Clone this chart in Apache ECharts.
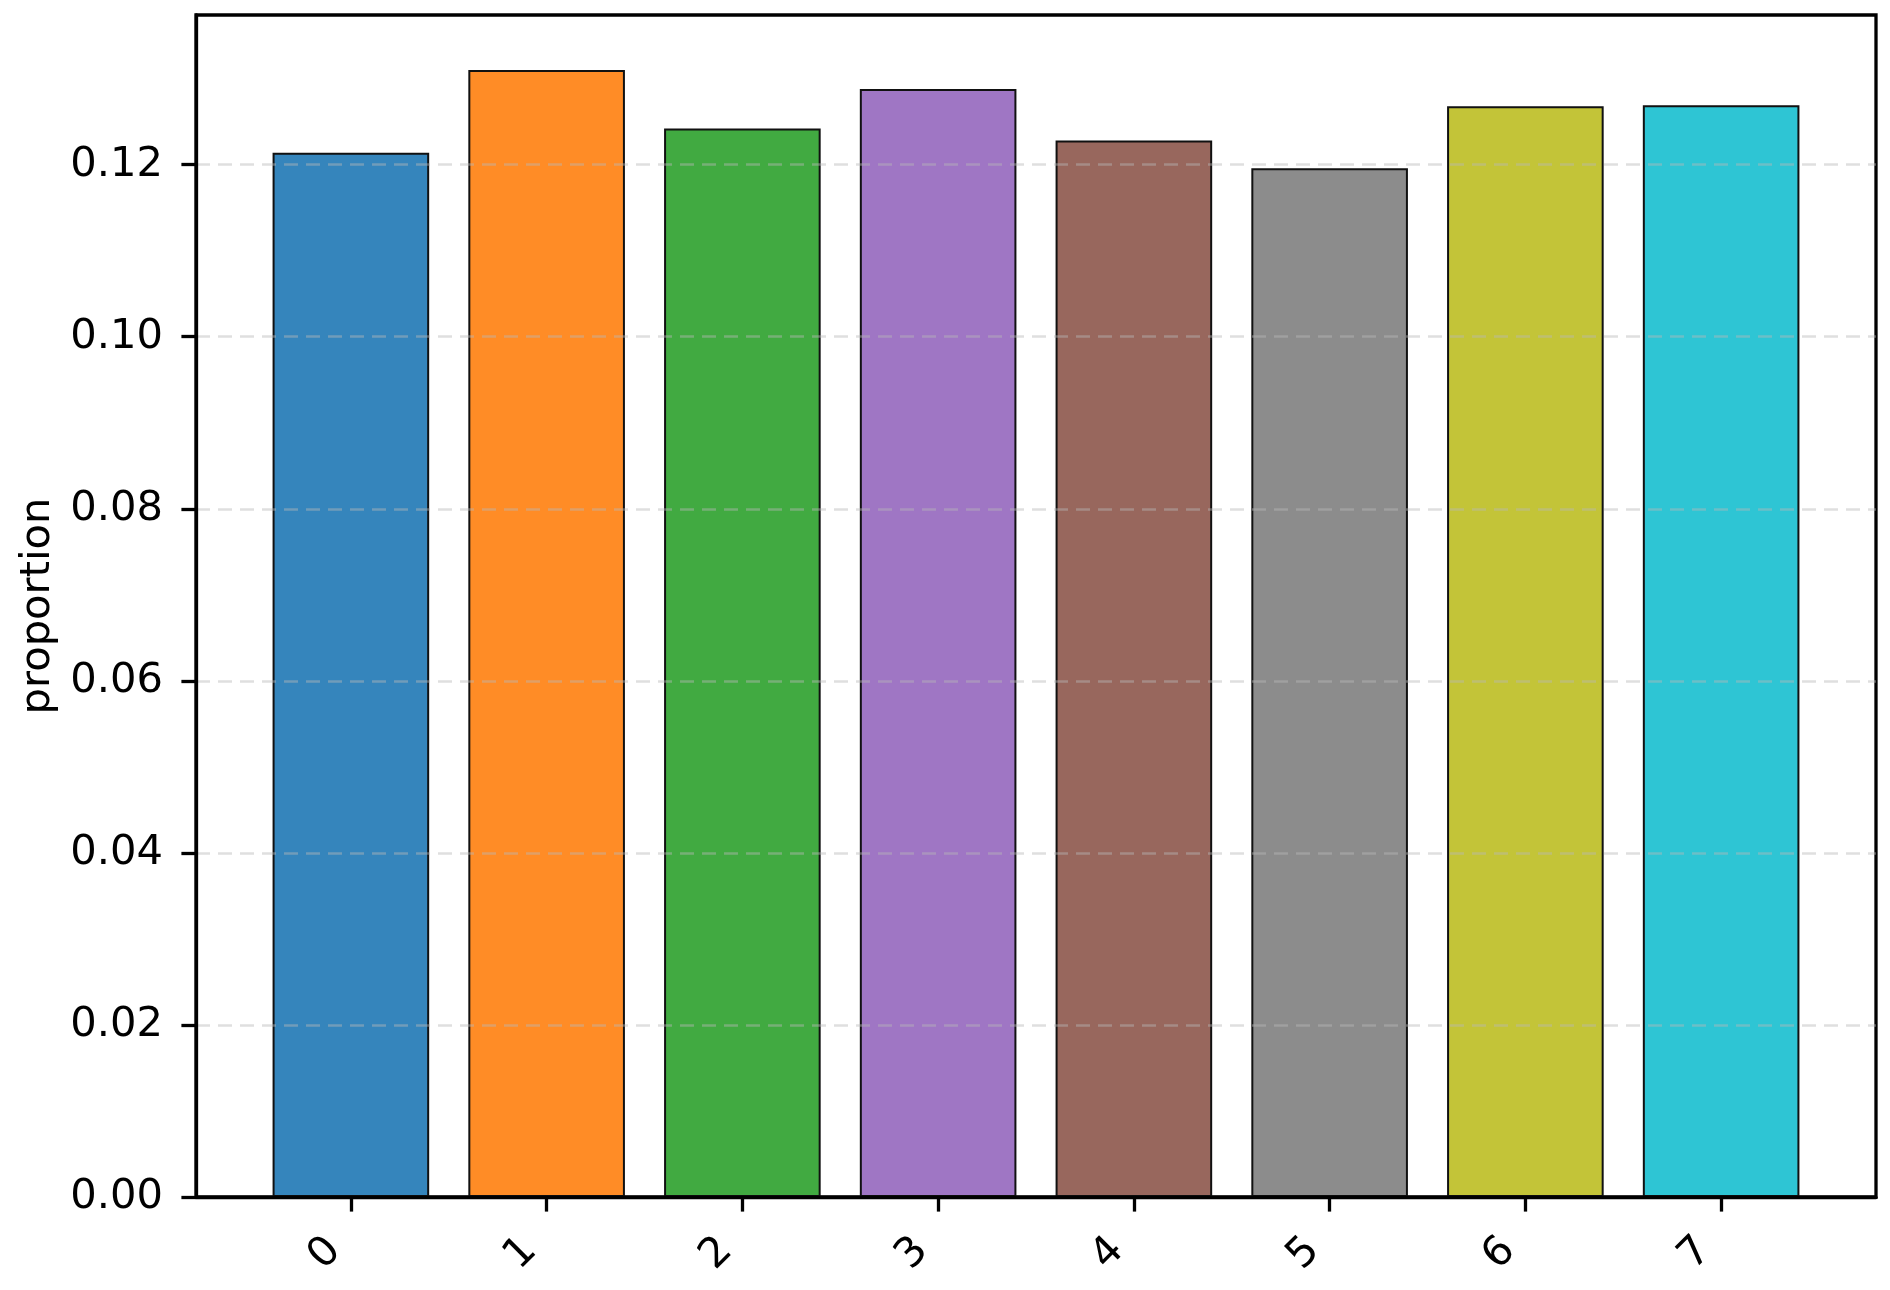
<!DOCTYPE html>
<html>
<head>
<meta charset="utf-8">
<script src="https://cdn.jsdelivr.net/npm/echarts@6/dist/echarts.min.js"></script>
<style>
  html, body { margin: 0; padding: 0; background: #fff; }
  #chart { width: 1890px; height: 1290px; }
</style>
</head>
<body>
<div id="chart"></div>
<script>
// data
const categories = ['0', '1', '2', '3', '4', '5', '6', '7'];
const proportions = [0.1214, 0.1310, 0.1242, 0.1288, 0.1228, 0.1196, 0.1268, 0.1269];
const barColors = ['#3585BC', '#FF8C26', '#41AA41', '#9F76C4', '#98675D', '#8C8C8C', '#C3C438', '#2EC5D4'];
const yTicks = [0, 0.02, 0.04, 0.06, 0.08, 0.10, 0.12];
const yMax = 0.1374;

const font = 'DejaVu Sans';
const fs = 41.67;

const myChart = echarts.init(document.getElementById('chart'));
myChart.setOption({
  animation: false,
  grid: [
    // frame
    { left: 196, right: 14, top: 15, bottom: 93, show: true, borderColor: '#000', borderWidth: 3.3, backgroundColor: 'transparent' },
    // bars area (wider margins like matplotlib)
    { left: 253, right: 71, top: 15, bottom: 93 }
  ],
  xAxis: [
    {
      gridIndex: 0, type: 'value', min: 0, max: 1, z: 5,
      axisLine: { show: true, lineStyle: { color: '#000', width: 3.3 } },
      axisTick: { show: false }, axisLabel: { show: false }, splitLine: { show: false }
    },
    {
      gridIndex: 1, type: 'category', data: categories, boundaryGap: true,
      axisLine: { show: false },
      axisTick: { show: true, alignWithLabel: true, length: 14.6, lineStyle: { color: '#000', width: 3.3 } },
      axisLabel: { rotate: 45, margin: 31, padding: [0, 23, 0, 0], color: '#000', fontFamily: font, fontSize: fs },
      splitLine: { show: false }
    }
  ],
  yAxis: [
    {
      gridIndex: 0, type: 'value', min: 0, max: yMax, z: 3,
      name: 'proportion', nameLocation: 'middle', nameGap: 137,
      nameTextStyle: { color: '#000', fontFamily: font, fontSize: fs },
      axisLine: { show: true, lineStyle: { color: '#000', width: 3.3 } },
      axisTick: { show: true, length: 14.6, customValues: yTicks, lineStyle: { color: '#000', width: 3.3 } },
      axisLabel: {
        margin: 33, color: '#000', fontFamily: font, fontSize: fs,
        customValues: yTicks,
        formatter: v => v.toFixed(2)
      },
      splitLine: { show: true, lineStyle: { color: 'rgba(185,185,185,0.45)', width: 2.5, type: [14, 8] } }
    },
    {
      gridIndex: 1, type: 'value', min: 0, max: yMax, show: false
    }
  ],
  series: [
    {
      type: 'bar',
      xAxisIndex: 1,
      yAxisIndex: 1,
      barWidth: '80%',
      data: proportions.map((v, i) => ({
        value: v,
        itemStyle: { color: barColors[i], borderColor: '#111', borderWidth: 2 }
      }))
    }
  ]
});
</script>
</body>
</html>
